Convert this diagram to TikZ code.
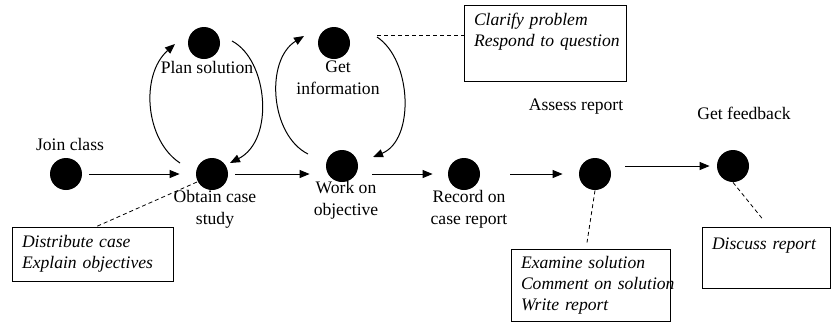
\documentclass[tikz,border=0pt]{standalone}
\usepackage{fontspec}
\setmainfont{Liberation Serif}
\usetikzlibrary{arrows.meta}

\begin{document}
\begin{tikzpicture}[x=0.5pt, y=0.5pt,
  dot/.style={circle, fill=black, draw=none, minimum size=16pt, inner sep=0pt},
  lbl/.style={align=center, inner sep=0pt, font=\fontsize{8.8}{10.8}\selectfont},
  notebox/.style={rectangle, draw, line width=0.5pt, align=left, inner xsep=5pt, inner ysep=0pt,
    font=\fontsize{8.8}{10.5}\selectfont\itshape},
  arr/.style={-{Triangle[length=5pt, width=4pt]}, line width=0.5pt},
  note/.style={dash pattern=on 2pt off 1.5pt, line width=0.4pt}
]
  \useasboundingbox (0,0) rectangle (831,329);

  \node[dot] (join) at (66,155) {};
  \node[dot] (obtain) at (212,155) {};
  \node[dot] (work) at (342,163) {};
  \node[dot] (record) at (464,155) {};
  \node[dot] (assess) at (595,155) {};
  \node[dot] (feedback) at (733,163) {};
  \node[dot] (plan) at (204,286) {};
  \node[dot] (getinfo) at (334,286) {};

  \node[lbl] (joinlbl) at (70,185) {Join class};
  \node[lbl] (planlbl) at (207,262) {Plan solution};
  \node[lbl] (getinfolbl) at (338,251.5) {Get\\information};
  \node[lbl] (obtainlbl) at (215,120) {Obtain case\\study};
  \node[lbl] (worklbl) at (346,128.5) {Work on\\objective};
  \node[lbl] (recordlbl) at (469,120) {Record on\\case report};
  \node[lbl] (assesslbl) at (576,222) {Assess report};
  \node[lbl] (feedbacklbl) at (744,216) {Get feedback};

  \node[notebox, text width=71pt, minimum height=38pt] (clarify) at (545,286)
    {Clarify problem\\\mbox{Respond to question}\\\strut};
  \node[notebox, text width=70.5pt, minimum height=27pt] (distribute) at (92.5,75)
    {Distribute case\\Explain objectives};
  \node[notebox, text width=69.5pt, minimum height=36pt] (examine) at (590.5,44)
    {Examine solution\\\mbox{Comment on solution}\\Write report};
  \node[notebox, text width=54pt, minimum height=30.5pt] (discuss) at (766,71.5)
    {Discuss report\\\strut};

  \draw[arr, shorten <=3.5pt, shorten >=8pt] (join) -- (obtain);
  \draw[arr, shorten <=3.5pt, shorten >=8pt] (obtain.east) -- (obtain.east -| work.west);
  \draw[arr, shorten <=7pt, shorten >=7.5pt] (work.east |- record) -- (record.west);
  \draw[arr, shorten <=15pt, shorten >=8pt] (record) -- (assess);
  \draw[arr, shorten <=7pt, shorten >=3.5pt] (assess.east |- feedback) -- (feedback.west);

  \draw[arr] ([shift={(-32,11)}]obtain.center) .. controls (145,189) and (140,254) .. ([shift={(-29,-1)}]plan.center);
  \draw[arr] ([shift={(28,2)}]plan.center) .. controls (268,269) and (275,189) .. ([shift={(18,11)}]obtain.center);
  \draw[arr] ([shift={(-34,12)}]work.center) .. controls (270,194) and (265,269) .. ([shift={(-30,7)}]getinfo.center);
  \draw[arr] ([shift={(43,6)}]getinfo.center) .. controls (412,269) and (415,189) .. ([shift={(31,9)}]work.center);

  \draw[note] ([shift={(43,8)}]getinfo.center) -- ([yshift=4pt]clarify.west);
  \draw[note] ([shift={(-15,-8)}]obtain.center) -- ([xshift=2pt]distribute.north);
  \draw[note] (assess.south) -- ([shift={(-3.5,6)}]examine.north);
  \draw[note] (feedback.south) -- ([shift={(-3,7)}]discuss.north);
\end{tikzpicture}
\end{document}
